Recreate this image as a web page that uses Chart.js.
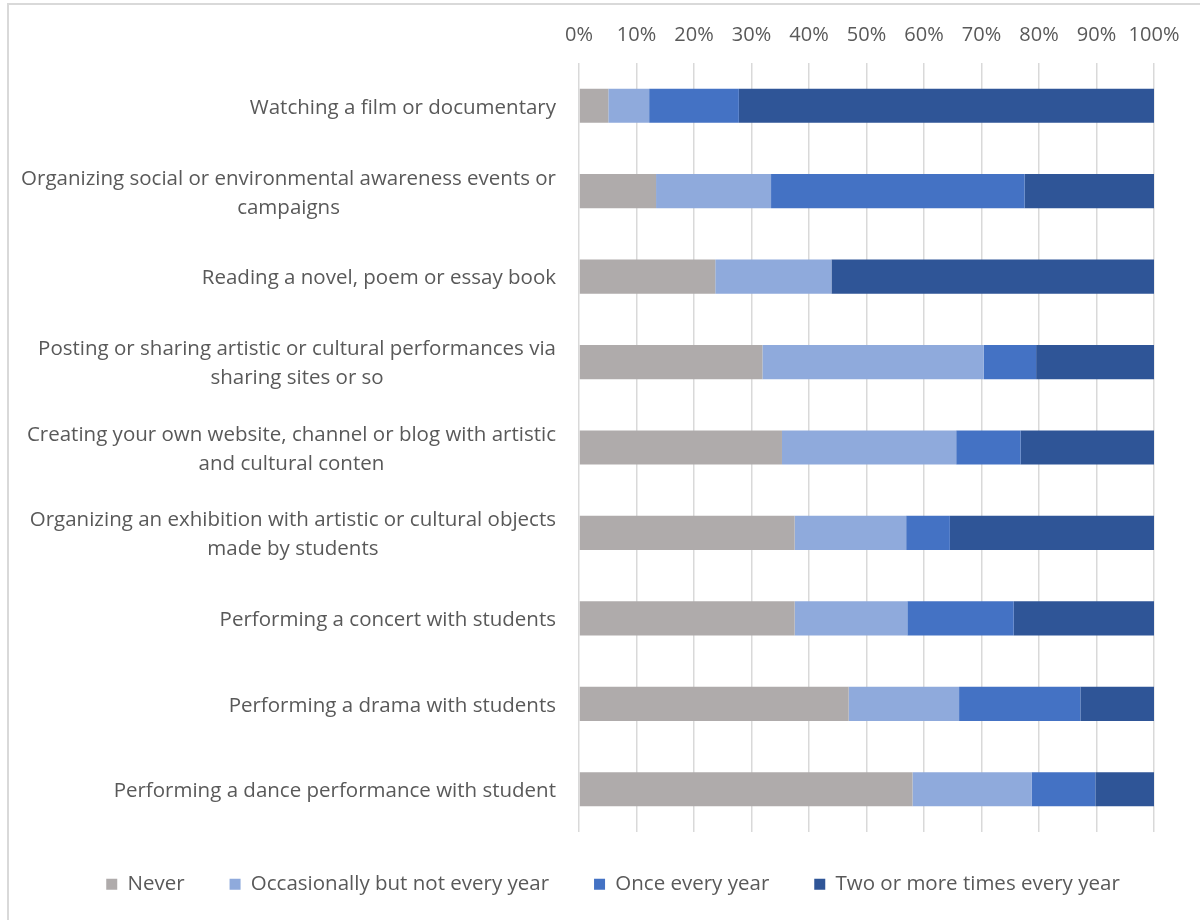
<!DOCTYPE html>
<html>
<head>
<meta charset="utf-8">
<script src="https://cdn.jsdelivr.net/npm/chart.js@4.4.1/dist/chart.umd.min.js"></script>
<style>
  html, body { margin: 0; padding: 0; background: #ffffff; }
  #wrap { width: 1200px; height: 920px; position: relative; }
</style>
</head>
<body>
<div id="wrap"><canvas id="chart" width="1200" height="920"></canvas></div>
<script>
// Activities (one bar each), top to bottom; multi-line labels are arrays
const activities = [
  'Watching a film or documentary',
  ['Organizing social or environmental awareness events or', 'campaigns'],
  'Reading a novel, poem or essay book',
  ['Posting or sharing artistic or cultural performances via', 'sharing sites or so'],
  ['Creating your own website, channel or blog with artistic', 'and cultural conten'],
  ['Organizing an exhibition with artistic or cultural objects', 'made by students'],
  'Performing a concert with students',
  'Performing a drama with students',
  'Performing a dance performance with student'
];

// Frequency categories (legend)
const seriesNames = ['Never', 'Occasionally but not every year', 'Once every year', 'Two or more times every year'];

// Share of respondents (%) per frequency
const never        = [5.1, 13.4, 23.7, 31.9, 35.3, 37.5, 37.5, 46.9, 58.0];
const occasionally = [7.1, 20.0, 20.2, 38.5, 30.3, 19.4, 19.6, 19.2, 20.7];
const onceYear     = [15.6, 44.1, 0.0, 9.1, 11.2, 7.6, 18.5, 21.1, 11.1];
const twoOrMore    = [72.2, 22.5, 56.1, 20.5, 23.2, 35.5, 24.4, 12.8, 10.2];

// Percentage axis tick labels
const tickLabels = ['0%', '10%', '20%', '30%', '40%', '50%', '60%', '70%', '80%', '90%', '100%'];

const seriesColors = ['#AFABAB', '#8FAADC', '#4472C4', '#2F5597'];
const textColor = '#595959';
const fontFamily = "'Open Sans', 'Liberation Sans', sans-serif";

// White background plus the thin outer frame
const framePlugin = {
  id: 'frame',
  beforeDraw(chart) {
    const ctx = chart.ctx;
    ctx.save();
    ctx.fillStyle = '#ffffff';
    ctx.fillRect(0, 0, chart.width, chart.height);
    ctx.strokeStyle = '#d9d9d9';
    ctx.lineWidth = 2;
    ctx.beginPath();
    ctx.moveTo(8, chart.height);
    ctx.lineTo(8, 4);
    ctx.lineTo(chart.width, 4);
    ctx.stroke();
    ctx.restore();
  }
};

// Nudge the legend box so the row sits centred under the whole figure
const legendOffsetPlugin = {
  id: 'legendOffset',
  afterLayout(chart) {
    const lg = chart.legend;
    if (!lg) return;
    lg.left += 36; lg.right += 36;
    lg.top -= 3; lg.bottom -= 3;
  }
};

// Category labels: each block right-aligned to the axis, its lines centred within the block
const categoryLabelPlugin = {
  id: 'categoryLabels',
  afterDraw(chart) {
    const ctx = chart.ctx;
    const yScale = chart.scales.y;
    const right = chart.chartArea.left - 23;
    const lineHeight = 29;
    ctx.save();
    ctx.font = '20.5px ' + fontFamily;
    ctx.fillStyle = textColor;
    ctx.textAlign = 'center';
    ctx.textBaseline = 'middle';
    chart.data.labels.forEach((label, i) => {
      const lines = Array.isArray(label) ? label : [label];
      const widest = Math.max(...lines.map(l => ctx.measureText(l).width));
      const cx = right - widest / 2;
      const cy = yScale.getPixelForTick(i) + 2;
      lines.forEach((line, j) => {
        ctx.fillText(line, cx, cy + (j - (lines.length - 1) / 2) * lineHeight);
      });
    });
    ctx.restore();
  }
};

const seriesValues = [never, occasionally, onceYear, twoOrMore];

new Chart(document.getElementById('chart'), {
  type: 'bar',
  data: {
    labels: activities,
    datasets: seriesNames.map((name, k) => ({
      label: name,
      data: seriesValues[k],
      backgroundColor: seriesColors[k],
      borderWidth: 0,
      categoryPercentage: 0.8,
      barPercentage: 0.5
    }))
  },
  options: {
    indexAxis: 'y',
    responsive: false,
    animation: false,
    devicePixelRatio: 1,
    layout: { padding: { left: 0, right: 46, top: 0, bottom: 12.5 } },
    scales: {
      x: {
        position: 'top',
        stacked: true,
        min: 0,
        max: 100,
        ticks: {
          stepSize: 10,
          autoSkip: false,
          maxRotation: 0,
          padding: 16,
          color: textColor,
          font: { family: fontFamily, size: 20 },
          callback: (value, index) => tickLabels[index]
        },
        grid: { color: '#d9d9d9', lineWidth: 1.5, drawTicks: false },
        border: { display: false },
        afterFit(scale) { scale.height = 63; }
      },
      y: {
        stacked: true,
        ticks: { display: false },
        grid: { display: false },
        border: { display: false },
        afterFit(scale) { scale.width = 579; }
      }
    },
    plugins: {
      legend: {
        position: 'bottom',
        labels: {
          boxWidth: 11,
          boxHeight: 11,
          padding: 45,
          color: textColor,
          font: { family: fontFamily, size: 20.5 }
        }
      },
      tooltip: { enabled: false }
    }
  },
  plugins: [framePlugin, legendOffsetPlugin, categoryLabelPlugin]
});
</script>
</body>
</html>
